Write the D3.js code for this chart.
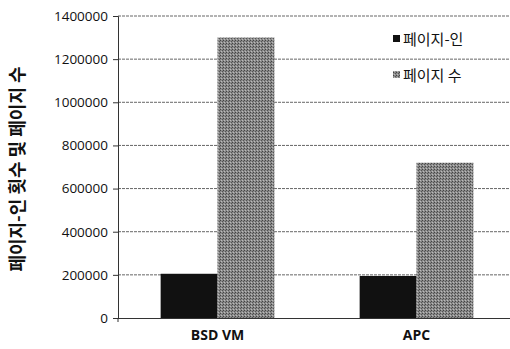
<!DOCTYPE html>
<html>
<head>
<meta charset="utf-8">
<script src="https://cdn.jsdelivr.net/npm/d3@7"></script>
<style>
  body { margin: 0; background: #fff; }
  svg { display: block; }
</style>
</head>
<body>
<div id="chart"></div>
<script>
"use strict";

// chart data
const categories = ["BSD VM", "APC"];
const seriesNames = ["페이지-인", "페이지 수"];
const pageIns = [205000, 195000];
const pageCounts = [1300000, 720000];
const yTicks = [0, 200000, 400000, 600000, 800000, 1000000, 1200000, 1400000];

const width = 510, height = 349;
const margin = { left: 118, top: 16, right: 0, bottom: 31 };
const w = 516 - margin.left, h = height - margin.top - margin.bottom;

const svg = d3.select("#chart")
  .append("svg")
    .attr("width", width)
    .attr("height", height);

// texture for the gray bars
const defs = svg.append("defs");
const pat = defs.append("pattern")
  .attr("id", "grain")
  .attr("width", 3).attr("height", 3)
  .attr("patternUnits", "userSpaceOnUse");
pat.append("rect").attr("width", 3).attr("height", 3).attr("fill", "#8a8a8a");
pat.append("rect").attr("x", 0).attr("y", 0).attr("width", 1).attr("height", 1).attr("fill", "#444");
pat.append("rect").attr("x", 2).attr("y", 1).attr("width", 1).attr("height", 1).attr("fill", "#555");
pat.append("rect").attr("x", 1).attr("y", 2).attr("width", 1).attr("height", 1).attr("fill", "#bbb");

const chart = svg.append("g")
  .attr("transform", "translate(" + margin.left + "," + margin.top + ")");

const x0 = d3.scaleBand().domain(categories).range([0, w]).padding(0);
const x1 = d3.scaleBand().domain(seriesNames).range([0, x0.bandwidth()])
  .paddingInner(0).paddingOuter(0.75);
const y = d3.scaleLinear().domain([0, 1400000]).range([h, 0]);

// dotted gridlines
chart.append("g")
  .selectAll("line")
  .data(yTicks.slice(1))
  .join("line")
    .attr("x1", 0).attr("x2", width - margin.left)
    .attr("y1", d => y(d)).attr("y2", d => y(d))
    .attr("stroke", "#666")
    .attr("stroke-width", 1)
    .attr("stroke-dasharray", "3,1");

const fills = ["#111", "url(#grain)"];
const rows = categories.map((c, i) => ({ cat: c, vals: [pageIns[i], pageCounts[i]] }));

chart.append("g")
  .selectAll("g")
  .data(rows)
  .join("g")
    .attr("transform", d => "translate(" + x0(d.cat) + ",0)")
  .selectAll("rect")
  .data(d => d.vals.map((v, j) => ({ key: seriesNames[j], v: v, j: j })))
  .join("rect")
    .attr("x", d => x1(d.key))
    .attr("width", x1.bandwidth())
    .attr("y", d => y(d.v))
    .attr("height", d => h - y(d.v))
    .attr("fill", d => fills[d.j]);

// y axis
const yAxis = chart.append("g")
  .call(d3.axisLeft(y).tickValues(yTicks).tickSize(5).tickPadding(5).tickFormat(d3.format("d")));
yAxis.select(".domain").attr("stroke", "#333");
yAxis.selectAll(".tick line").attr("stroke", "#333");
yAxis.selectAll("text")
  .attr("font-family", "'Open Sans', 'Noto Sans', sans-serif")
  .attr("font-size", 13.5)
  .attr("fill", "#111");

// x axis
const xAxis = chart.append("g")
  .attr("transform", "translate(0," + h + ")")
  .call(d3.axisBottom(x0).tickSize(0).tickPadding(12));
xAxis.select(".domain").attr("stroke", "#333").attr("d", "M0,0.5H" + (width - margin.left));
xAxis.selectAll("text")
  .attr("font-family", "'Open Sans', 'Noto Sans', sans-serif")
  .attr("font-weight", "bold")
  .attr("font-size", 14)
  .attr("fill", "#111");
chart.append("line")
  .attr("x1", 0).attr("x2", 0).attr("y1", h).attr("y2", h + 4)
  .attr("stroke", "#333");

// y axis title
svg.append("text")
  .attr("transform", "translate(24," + (margin.top + h / 2 + 2) + ") rotate(-90)")
  .attr("text-anchor", "middle")
  .attr("font-family", "'Noto Sans CJK KR', sans-serif")
  .attr("font-weight", "bold")
  .attr("font-size", 18)
  .attr("fill", "#111")
  .text("페이지-인 횟수 및 페이지 수");

// legend
const legend = svg.append("g")
  .selectAll("g")
  .data(seriesNames)
  .join("g")
    .attr("transform", (d, i) => "translate(393," + (45 + i * 36) + ")");
legend.append("rect")
  .attr("x", 0).attr("y", -10)
  .attr("width", 7).attr("height", 7)
  .attr("fill", (d, i) => i === 0 ? "#111" : "url(#grain)");
legend.append("text")
  .attr("x", 10)
  .attr("y", 0)
  .attr("font-family", "'Noto Sans CJK KR', sans-serif")
  .attr("font-size", 15)
  .attr("fill", "#111")
  .text(d => d);
</script>
</body>
</html>
